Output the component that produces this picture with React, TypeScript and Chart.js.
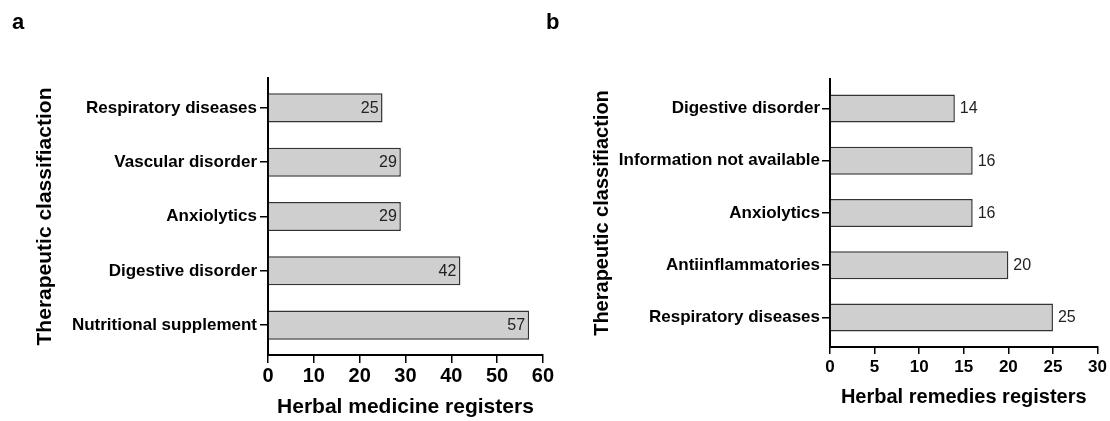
import React, { useEffect, useRef } from "react";
import { Chart, registerables } from "chart.js";

Chart.register(...registerables);

const FONT = '"Liberation Sans", Arial, Helvetica, sans-serif';

// Panel a
const categoriesA = [
  "Respiratory diseases",
  "Vascular disorder",
  "Anxiolytics",
  "Digestive disorder",
  "Nutritional supplement",
];
const valuesA = [25, 29, 29, 42, 57];
const xTicksA = [0, 10, 20, 30, 40, 50, 60];

// Panel b
const categoriesB = [
  "Digestive disorder",
  "Information not available",
  "Anxiolytics",
  "Antiinflammatories",
  "Respiratory diseases",
];
const valuesB = [14, 16, 16, 20, 25];
const xTicksB = [0, 5, 10, 15, 20, 25, 30];

const valueLabelPlugin = {
  id: "valueLabels",
  afterDatasetsDraw(chart: any, _args: any, opts: any) {
    const { ctx } = chart;
    const meta = chart.getDatasetMeta(0);
    const data = chart.data.datasets[0].data as any[];
    ctx.save();
    ctx.font = `${opts.size}px ${FONT}`;
    ctx.fillStyle = opts.color;
    ctx.textBaseline = "middle";
    ctx.textAlign = opts.inside ? "right" : "left";
    meta.data.forEach((bar: any, i: number) => {
      const v = data[i].x;
      const x = opts.inside ? bar.x - opts.gap : bar.x + opts.gap;
      ctx.fillText(String(v), x, bar.y + opts.dy);
    });
    ctx.restore();
  },
};

type PanelCfg = {
  categories: string[];
  values: number[];
  xTicks: number[];
  xTitle: string;
  yTitle: string;
  padTop: number;
  padRight: number;
  yWidth: number;
  xHeight: number;
  yMin: number;
  yMax: number;
  yTickFont: number;
  yTickPad: number;
  xTickFont: number;
  xTickPad: number;
  xTickLen: number;
  xTitleFont: number;
  xTitlePadBottom: number;
  yTitleFont: number;
  yTitlePadTop: number;
  inside: boolean;
  gap: number;
};

function makeConfig(p: PanelCfg): any {
  return {
    type: "bar",
    data: {
      datasets: [
        {
          data: p.values.map((v, i) => ({ x: v, y: i })),
          backgroundColor: "#cfcfcf",
          borderColor: "#333333",
          borderWidth: 1.5,
          barPercentage: 0.535,
          categoryPercentage: 1,
        },
      ],
    },
    options: {
      responsive: false,
      animation: false,
      indexAxis: "y",
      layout: { padding: { top: p.padTop, right: p.padRight, bottom: 0, left: 0 } },
      plugins: {
        legend: { display: false },
        tooltip: { enabled: false },
        valueLabels: { inside: p.inside, gap: p.gap, size: 16, color: "#222222", dy: 0.5 },
      },
      scales: {
        x: {
          type: "linear",
          position: "bottom",
          offset: false,
          min: p.xTicks[0],
          max: p.xTicks[p.xTicks.length - 1],
          afterBuildTicks: (s: any) => {
            s.ticks = p.xTicks.map((v) => ({ value: v }));
          },
          afterFit: (s: any) => {
            s.height = p.xHeight;
          },
          grid: {
            display: true,
            offset: false,
            drawOnChartArea: false,
            drawTicks: true,
            tickLength: p.xTickLen,
            color: "#000",
            lineWidth: 1.5,
          },
          border: { display: true, color: "#000", width: 2 },
          ticks: {
            font: { family: FONT, size: p.xTickFont, weight: "bold" },
            color: "#000",
            padding: p.xTickPad,
            maxRotation: 0,
            autoSkip: false,
          },
          title: {
            display: true,
            text: p.xTitle,
            color: "#000",
            font: { family: FONT, size: p.xTitleFont, weight: "bold" },
            padding: { top: 0, bottom: p.xTitlePadBottom },
          },
        },
        y: {
          type: "linear",
          position: "left",
          offset: false,
          bounds: "data",
          min: p.yMin,
          max: p.yMax,
          reverse: true,
          afterBuildTicks: (s: any) => {
            s.ticks = p.categories.map((_, i) => ({ value: i }));
          },
          afterFit: (s: any) => {
            s.width = p.yWidth;
          },
          grid: {
            display: true,
            offset: false,
            drawOnChartArea: false,
            drawTicks: true,
            tickLength: 8,
            color: "#000",
            lineWidth: 1.5,
          },
          border: { display: true, color: "#000", width: 2 },
          ticks: {
            callback: (v: any) => p.categories[Math.round(Number(v))] ?? "",
            font: { family: FONT, size: p.yTickFont, weight: "bold" },
            color: "#000",
            padding: p.yTickPad,
            autoSkip: false,
          },
          title: {
            display: true,
            text: p.yTitle,
            color: "#000",
            font: { family: FONT, size: p.yTitleFont, weight: "bold" },
            padding: { top: p.yTitlePadTop, bottom: 0 },
          },
        },
      },
    },
    plugins: [valueLabelPlugin],
  };
}

const panelA: PanelCfg = {
  categories: categoriesA,
  values: valuesA,
  xTicks: xTicksA,
  xTitle: "Herbal medicine registers",
  yTitle: "Therapeutic classifiaction",
  padTop: 78,
  padRight: 10.7,
  yWidth: 268,
  xHeight: 66,
  yMin: -0.55,
  yMax: 4.55,
  yTickFont: 17,
  yTickPad: 3,
  xTickFont: 20,
  xTickPad: 1,
  xTickLen: 8,
  xTitleFont: 21,
  xTitlePadBottom: 1,
  yTitleFont: 21,
  yTitlePadTop: 33,
  inside: true,
  gap: 4,
};

const panelB: PanelCfg = {
  categories: categoriesB,
  values: valuesB,
  xTicks: xTicksB,
  xTitle: "Herbal remedies registers",
  yTitle: "Therapeutic classifiaction",
  padTop: 79,
  padRight: 11.7,
  yWidth: 275,
  xHeight: 74,
  yMin: -0.565,
  yMax: 4.565,
  yTickFont: 17,
  yTickPad: 2,
  xTickFont: 17,
  xTickPad: 3,
  xTickLen: 7,
  xTitleFont: 20,
  xTitlePadBottom: 12,
  yTitleFont: 20,
  yTitlePadTop: 35,
  inside: false,
  gap: 5,
};

function Panel({ cfg, left }: { cfg: PanelCfg; left: number }) {
  const ref = useRef<HTMLCanvasElement | null>(null);
  useEffect(() => {
    if (!ref.current) return;
    const chart = new Chart(ref.current, makeConfig(cfg));
    return () => chart.destroy();
  }, [cfg]);
  return (
    <canvas
      ref={ref}
      width={555}
      height={421}
      style={{ position: "absolute", left, top: 0, width: 555, height: 421, display: "block" }}
    />
  );
}

const letterStyle: React.CSSProperties = {
  position: "absolute",
  fontFamily: FONT,
  fontWeight: "bold",
  fontSize: 22,
  lineHeight: "22px",
  color: "#000",
};

export default function App() {
  return (
    <div
      style={{
        position: "absolute",
        left: 0,
        top: 0,
        width: 1110,
        height: 421,
        background: "#fff",
        overflow: "hidden",
      }}
    >
      <Panel cfg={panelA} left={0} />
      <Panel cfg={panelB} left={555} />
      <div style={{ ...letterStyle, left: 12, top: 11 }}>a</div>
      <div style={{ ...letterStyle, left: 546, top: 11 }}>b</div>
    </div>
  );
}
